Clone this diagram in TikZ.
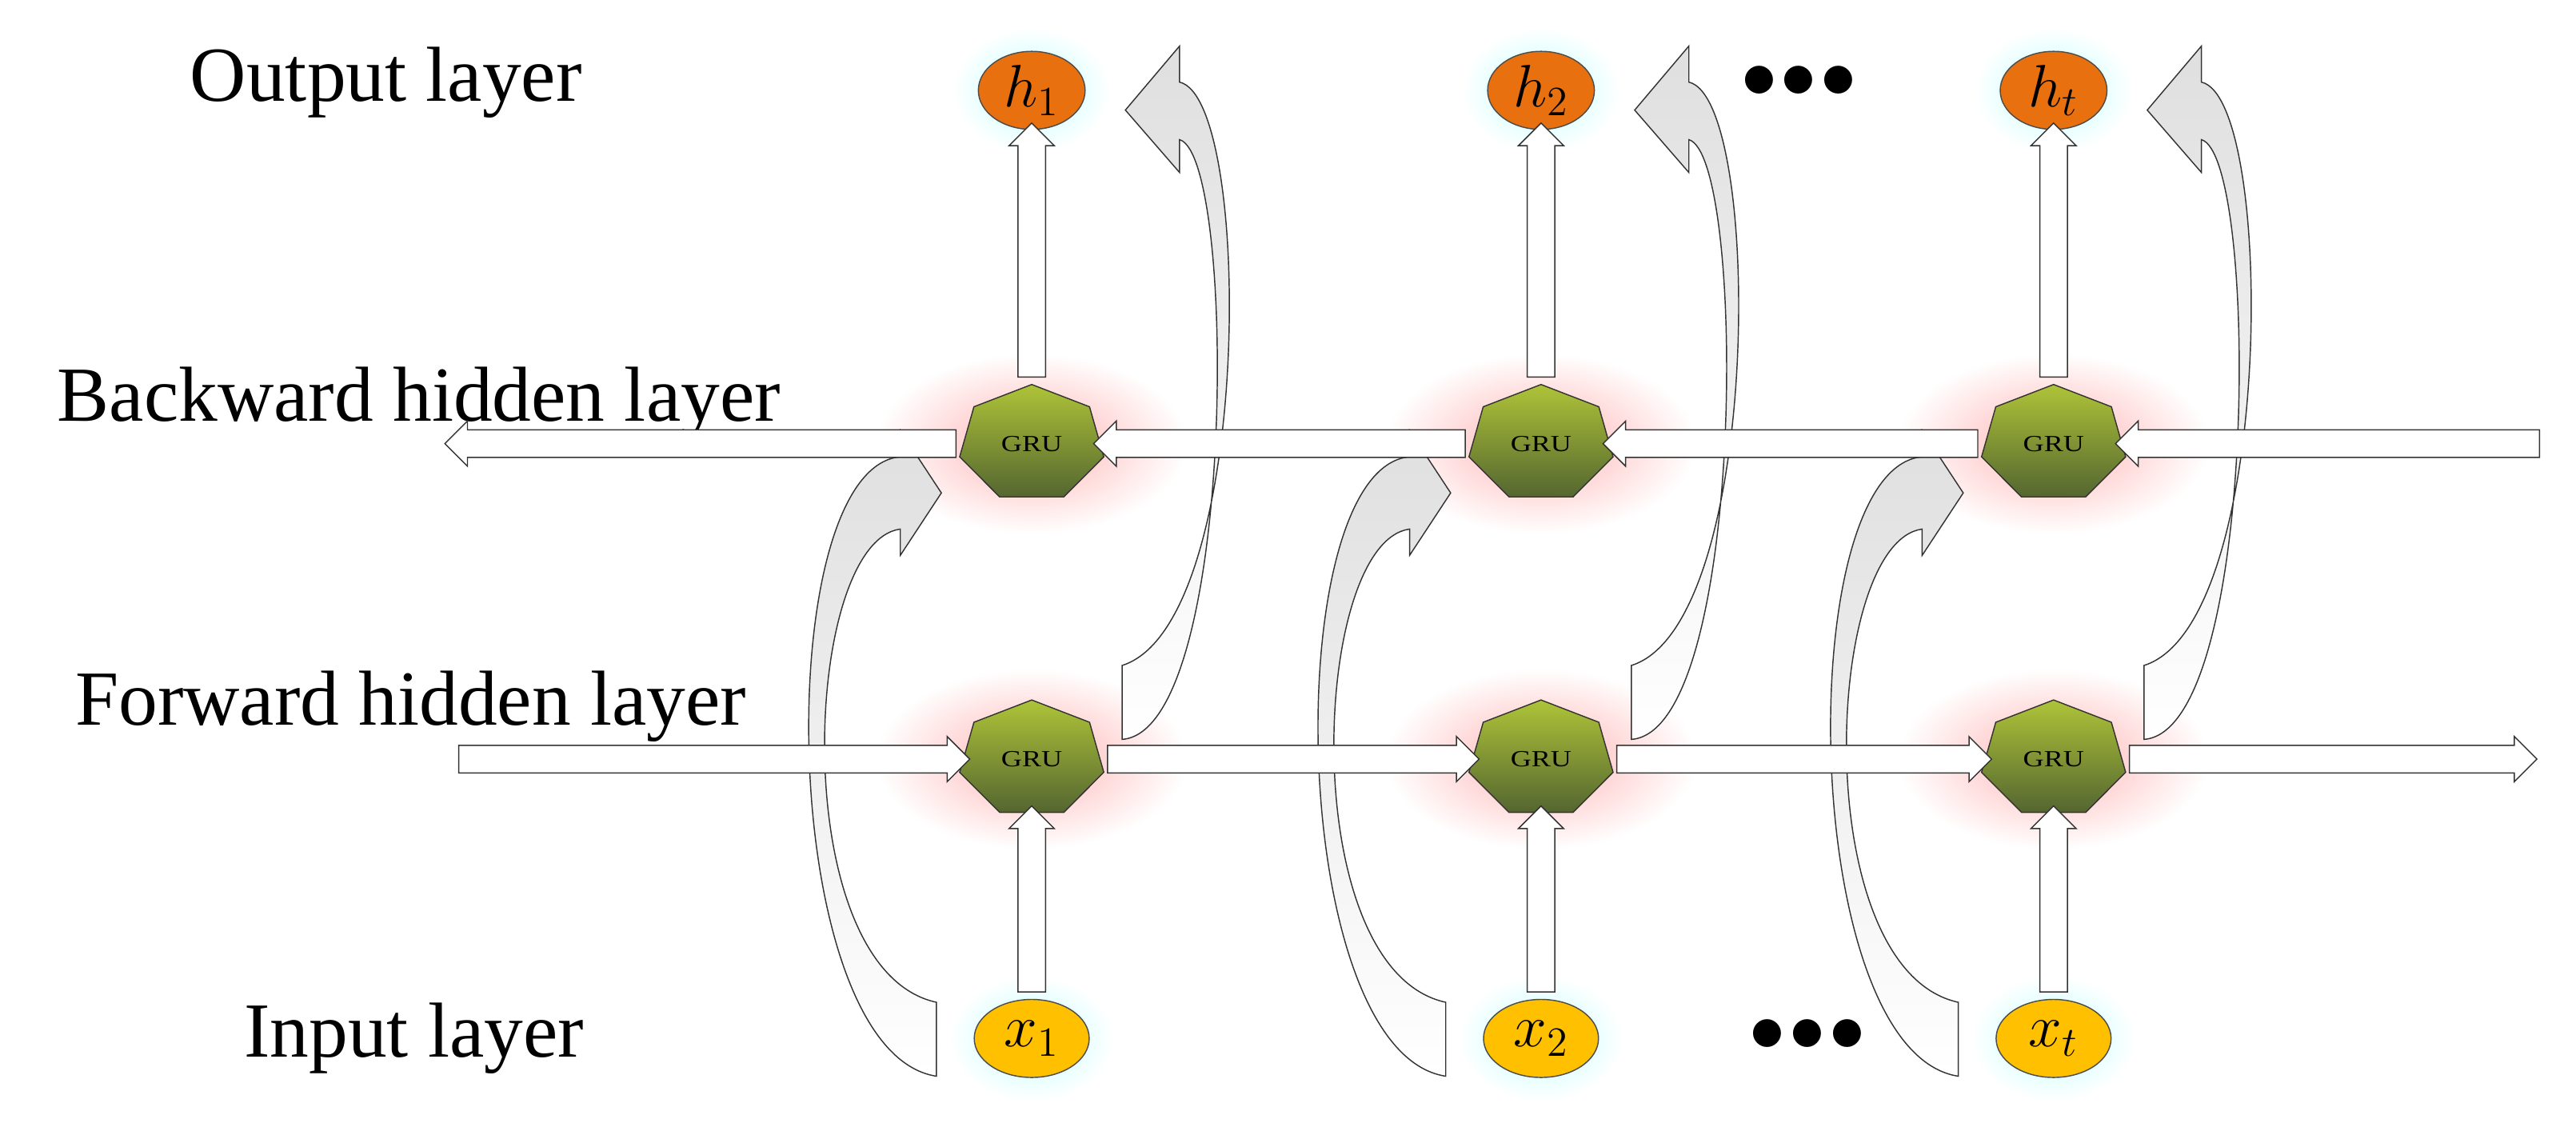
\documentclass[tikz,border=0pt]{standalone}
\usepackage{fontspec}
\setmainfont{Liberation Serif}
\usetikzlibrary{shapes.geometric,shapes.arrows,calc}
\definecolor{hcol}{RGB}{232,112,15}
\definecolor{xcol}{RGB}{255,192,0}
\definecolor{grucol}{RGB}{140,170,80}
\begin{document}
\begin{tikzpicture}[x=0.02cm,y=-0.02cm]
\tikzstyle{lab} = [font=\fontsize{27}{30}\selectfont]
\tikzstyle{gru} = [regular polygon, regular polygon sides=7, minimum size=1.8cm, inner sep=0pt, yscale=0.8, transform shape, draw=black!80, top color=grucol!70!yellow, bottom color=grucol!60!black, font=\fontsize{10}{12}\selectfont]
\tikzstyle{hnode} = [ellipse, minimum width=1.3cm, minimum height=0.95cm, inner sep=0pt, draw=black!70, fill=hcol, font=\fontsize{22}{24}\selectfont]
\tikzstyle{xnode} = [ellipse, minimum width=1.4cm, minimum height=0.95cm, inner sep=0pt, draw=black!70, fill=xcol, font=\fontsize{22}{24}\selectfont]
\tikzstyle{fat} = [single arrow, draw=black!80, fill=white, minimum width=0.55cm, single arrow head extend=0.1cm, single arrow head indent=0pt, inner xsep=0pt, inner ysep=0.15cm, sloped, allow upside down]
\tikzstyle{curvy} = [draw=black!80, top color=gray!25, bottom color=white]
\useasboundingbox (0,0) rectangle (1568,693);

% labels
\node (Lout) [lab] at (235,50) {Output layer};
\node (Lback) [lab] at (255,245) {Backward hidden layer};
\node (Lfor) [lab] at (250,430) {Forward hidden layer};
\node (Lin) [lab] at (252,632) {Input layer};

% glows
\foreach \c in {628,938,1250} {
  \shade[inner color=cyan!25, outer color=white] (\c,55) ellipse (48 and 38);
  \shade[inner color=cyan!25, outer color=white] (\c,632) ellipse (50 and 38);
  \shade[inner color=red!30, outer color=white] (\c,270) ellipse (95 and 55);
  \shade[inner color=red!30, outer color=white] (\c,462) ellipse (95 and 55);
}

% curved arrows
\foreach \c in {628,938,1250} {
  \path[curvy] (\c-58,610) .. controls (\c-150,590) and (\c-140,330) .. (\c-80,322)
    -- (\c-80,338) -- (\c-55,300) -- (\c-80,262) -- (\c-80,278)
    .. controls (\c-160,285) and (\c-155,640) .. (\c-58,655) -- cycle;
  \path[curvy] (\c+55,450) .. controls (\c+125,445) and (\c+125,95) .. (\c+90,85)
    -- (\c+90,105) -- (\c+57,67) -- (\c+90,28) -- (\c+90,50)
    .. controls (\c+135,60) and (\c+135,380) .. (\c+55,405) -- cycle;
}

% nodes
\node (h1) [hnode] at (628,55) {$h_1$};
\node (h2) [hnode] at (938,55) {$h_2$};
\node (ht) [hnode] at (1250,55) {$h_t$};
\node (x1) [xnode] at (628,632) {$x_1$};
\node (x2) [xnode] at (938,632) {$x_2$};
\node (xt) [xnode] at (1250,632) {$x_t$};
\node (b1) [gru] at (628,270) {GRU};
\node (b2) [gru] at (938,270) {GRU};
\node (bt) [gru] at (1250,270) {GRU};
\node (f1) [gru] at (628,462) {GRU};
\node (f2) [gru] at (938,462) {GRU};
\node (ft) [gru] at (1250,462) {GRU};
\node (dots1) [font=\fontsize{40}{40}\selectfont] at (1095,50) {$\bullet\!\bullet\!\bullet$};
\node (dots2) [font=\fontsize{40}{40}\selectfont] at (1100,630) {$\bullet\!\bullet\!\bullet$};
\coordinate (fin) at (275,462);
\coordinate (fout) at (1540,462);
\coordinate (bin) at (1550,270);
\coordinate (bout) at (275,270);

% block arrows
\foreach \a/\b in {fin/f1.west, f1.east/f2.west, f2.east/ft.west, ft.east/fout,
                   bin/bt.east, bt.west/b2.east, b2.west/b1.east, b1.west/bout,
                   x1.north/f1.south, x2.north/f2.south, xt.north/ft.south,
                   b1.north/h1.south, b2.north/h2.south, bt.north/ht.south} {
  \path let \p1=(\a), \p2=(\b), \n1={veclen(\x2-\x1,\y2-\y1)} in
    (\p1) -- (\p2) node [fat, midway, minimum height=\n1] {};
}

\end{tikzpicture}
\end{document}
